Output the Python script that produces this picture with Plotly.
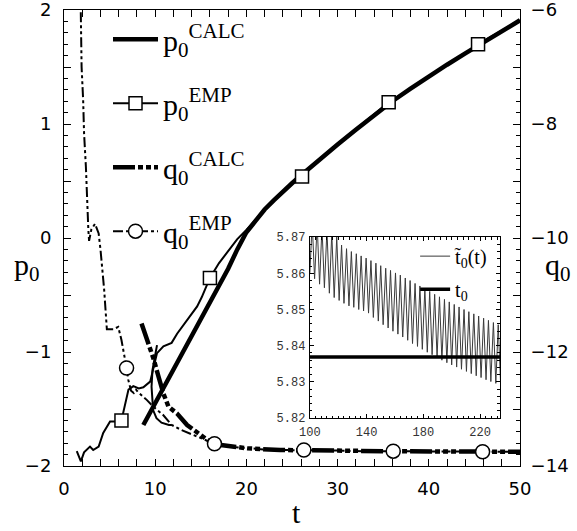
import plotly.graph_objects as go

# ---------------- data ----------------
p_calc_t = [8.7, 10, 11, 12, 13, 14, 15, 16, 17, 18, 19, 20, 21, 22, 23, 24, 25, 26,
            28, 30, 32, 34, 36, 38, 40, 42, 44, 46, 48, 50]
p_calc_v = [-1.64, -1.45, -1.30, -1.15, -1.00, -0.86, -0.71, -0.56, -0.42, -0.27, -0.10, 0.05,
            0.15, 0.25, 0.33, 0.41, 0.48, 0.55, 0.69, 0.82, 0.95, 1.08, 1.20, 1.31, 1.42,
            1.52, 1.62, 1.72, 1.82, 1.91]

p_emp_t = [1.4, 1.85, 2.2, 2.5, 2.85, 3.2, 3.8, 4.3, 5.05, 5.6, 6.3, 7.07, 7.6, 8.2, 8.7,
           9.45, 9.8, 10.2, 10.9, 11.8, 12.4, 13.5, 14.6, 15.1, 15.6, 16.0, 17, 18, 19, 20,
           22, 24, 26.1, 28, 30, 32, 34, 35.6, 38, 40, 42, 44, 45.4, 48, 50]
p_emp_v = [-1.87, -1.96, -1.88, -1.86, -1.83, -1.86, -1.83, -1.71, -1.61, -1.61, -1.60, -1.33,
           -1.30, -1.32, -1.31, -1.26, -1.13, -1.01, -0.95, -0.92, -0.84, -0.72, -0.60, -0.52,
           -0.43, -0.35, -0.22, -0.11, -0.01, 0.07, 0.25, 0.41, 0.54, 0.69, 0.82, 0.95, 1.08,
           1.19, 1.31, 1.42, 1.52, 1.62, 1.70, 1.82, 1.91]
p_emp_marker_t = [6.3, 16.0, 26.1, 35.6, 45.4]
p_emp_marker_v = [-1.60, -0.35, 0.54, 1.19, 1.70]

q_calc_t = [8.5, 9.27, 9.8, 10.36, 10.9, 11.46, 12.4, 13.5, 14.9, 15.7, 16.6, 18.2, 20.1,
            23.7, 25.6, 30, 35, 40, 45, 50]
q_calc_v = [-11.50, -11.85, -12.11, -12.43, -12.73, -12.96, -13.08, -13.28, -13.46, -13.54,
            -13.62, -13.66, -13.69, -13.72, -13.72, -13.73, -13.74, -13.74, -13.75, -13.75]

q_emp_t = [1.80, 1.93, 2.1, 2.2, 2.4, 2.5, 2.67, 2.75, 3.0, 3.4, 3.8, 4.0, 4.2, 4.4, 4.7,
           5.4, 5.95, 6.3, 6.86, 7.05, 7.35, 7.65, 7.9, 8.1, 9.07, 9.8, 10.9, 11.8, 12.9,
           13.8, 15.0, 16.5, 18, 20, 22, 24, 26.3, 30, 33, 36.1, 40, 43, 45.9, 48, 50]
q_emp_v = [-5.6, -7.0, -7.58, -8.16, -8.75, -9.33, -9.86, -10.05, -9.85, -9.75, -9.92,
           -10.2, -10.5, -10.9, -11.6, -11.6, -11.56, -11.79, -12.28, -12.49, -12.68, -12.72,
           -12.66, -12.70, -12.84, -12.96, -13.11, -13.28, -13.37, -13.43, -13.52, -13.61,
           -13.66, -13.69, -13.71, -13.72, -13.72, -13.73, -13.74, -13.74, -13.74, -13.75,
           -13.75, -13.75, -13.75]
q_emp_marker_t = [6.86, 16.5, 26.3, 36.1, 45.9]
q_emp_marker_v = [-12.28, -13.61, -13.72, -13.74, -13.75]

# extra thin branch of the empirical q0 curve
q_branch_t = [10.2, 9.96, 9.7, 9.6, 9.66, 9.77, 10.14, 10.69, 11.5, 11.8]
q_branch_v = [-11.88, -12.08, -12.32, -12.61, -12.84, -13.02, -13.16, -13.24, -13.28, -13.28]

# inset: oscillating t0~(t) (alternating troughs / peaks) and constant t0
inset_t = [100.0, 101.7, 103.4, 105.2, 106.9, 108.6, 110.3, 112.1, 113.8, 115.5, 117.2,
           119.0, 120.7, 122.4, 124.1, 125.9, 127.6, 129.3, 131.0, 132.8, 134.5, 136.2,
           137.9, 139.7, 141.4, 143.1, 144.8, 146.6, 148.3, 150.0, 151.7, 153.5, 155.2,
           156.9, 158.6, 160.4, 162.1, 163.8, 165.5, 167.3, 169.0, 170.7, 172.4, 174.2,
           175.9, 177.6, 179.3, 181.1, 182.8, 184.5, 186.2, 188.0, 189.7, 191.4, 193.1,
           194.9, 196.6, 198.3, 200.0, 201.8, 203.5, 205.2, 206.9, 208.7, 210.4, 212.1,
           213.8, 215.6, 217.3, 219.0, 220.7, 222.5, 224.2, 225.9, 227.6, 229.4, 231.1,
           232.8, 234.5]
inset_v = [5.8598, 5.8740, 5.8585, 5.8735, 5.8570, 5.8728, 5.8560, 5.8720, 5.8545, 5.8712,
           5.8533, 5.8700, 5.8525, 5.8678, 5.8517, 5.8668, 5.8510, 5.8660, 5.8506, 5.8654,
           5.8500, 5.8648, 5.8496, 5.8642, 5.8490, 5.8635, 5.8478, 5.8628, 5.8468, 5.8621,
           5.8458, 5.8614, 5.8449, 5.8608, 5.8440, 5.8601, 5.8432, 5.8595, 5.8424, 5.8587,
           5.8415, 5.8580, 5.8406, 5.8572, 5.8398, 5.8565, 5.8390, 5.8558, 5.8382, 5.8550,
           5.8375, 5.8542, 5.8367, 5.8535, 5.8360, 5.8528, 5.8353, 5.8521, 5.8347, 5.8514,
           5.8341, 5.8507, 5.8335, 5.8500, 5.8329, 5.8494, 5.8323, 5.8488, 5.8317, 5.8482,
           5.8312, 5.8476, 5.8306, 5.8470, 5.8301, 5.8464, 5.8296, 5.8458, 5.8291]
t0_t = [100, 236]
t0_v = [5.8369, 5.8369]

x_ticks = [0, 10, 20, 30, 40, 50]
p_ticks = [-2, -1.5, -1, -0.5, 0, 0.5, 1, 1.5, 2]
p_ticktext = ["\u22122", "", "\u22121", "", "0", "", "1", "", "2"]
q_ticks = [-14, -13, -12, -11, -10, -9, -8, -7, -6]
q_ticktext = ["\u221214", "", "\u221212", "", "\u221210", "", "\u22128", "", "\u22126"]
inset_xticks = [100, 140, 180, 220]
inset_yticks = [5.82, 5.83, 5.84, 5.85, 5.86, 5.87]

# --------------------------------------------------------------
SERIF = "Liberation Serif"
EMP_P_LINE = dict(color="black", width=2)
EMP_Q_LINE = dict(color="black", width=2, dash="10px,3px,3px,3px,3px,3px")
SQ = dict(symbol="square", size=13, color="white", opacity=1,
          line=dict(color="black", width=1.5))
CI = dict(symbol="circle", size=14, color="white", opacity=1,
          line=dict(color="black", width=1.5))

fig = go.Figure()

# --- p0 (left axis)
fig.add_trace(go.Scatter(
    x=p_calc_t, y=p_calc_v, mode="lines", name="p<sub>0</sub><sup>CALC</sup>",
    line=dict(color="black", width=4.5), legendgroup="a"))
fig.add_trace(go.Scatter(
    x=p_emp_t, y=p_emp_v, mode="lines", line=EMP_P_LINE, showlegend=False,
    legendgroup="b"))
fig.add_trace(go.Scatter(
    x=p_emp_marker_t, y=p_emp_marker_v, mode="markers", marker=SQ, showlegend=False,
    legendgroup="b"))
fig.add_trace(go.Scatter(        # legend entry only
    x=[None], y=[None], mode="lines+markers", name="p<sub>0</sub><sup>EMP</sup>",
    line=EMP_P_LINE, marker=SQ, legendgroup="b"))

# --- q0 (right axis)
fig.add_trace(go.Scatter(
    x=q_calc_t, y=q_calc_v, yaxis="y2", mode="lines", name="q<sub>0</sub><sup>CALC</sup>",
    line=dict(color="black", width=4.5, dash="22px,3px,5px,3px,5px,3px,5px,3px"),
    legendgroup="c"))
fig.add_trace(go.Scatter(
    x=q_branch_t, y=q_branch_v, yaxis="y2", mode="lines", showlegend=False,
    line=dict(color="black", width=2), legendgroup="d"))
fig.add_trace(go.Scatter(
    x=q_emp_t, y=q_emp_v, yaxis="y2", mode="lines", line=EMP_Q_LINE, showlegend=False,
    legendgroup="d"))
fig.add_trace(go.Scatter(
    x=q_emp_marker_t, y=q_emp_marker_v, yaxis="y2", mode="markers", marker=CI,
    showlegend=False, legendgroup="d"))
fig.add_trace(go.Scatter(        # legend entry only
    x=[None], y=[None], yaxis="y2", mode="lines+markers", name="q<sub>0</sub><sup>EMP</sup>",
    line=EMP_Q_LINE, marker=CI, legendgroup="d"))

# --- inset
fig.add_trace(go.Scatter(
    x=inset_t, y=inset_v, xaxis="x3", yaxis="y3", mode="lines", name="t\u0303<sub>0</sub>(t)",
    line=dict(color="#3a3a3a", width=1), legend="legend2", legendgroup="i1"))
fig.add_trace(go.Scatter(
    x=t0_t, y=t0_v, xaxis="x3", yaxis="y3", mode="lines", name="t<sub>0</sub>",
    line=dict(color="black", width=3.5), legend="legend2", legendgroup="i2"))

tickfont = dict(family="DejaVu Sans", size=18, color="black")
ax_common = dict(showgrid=False, zeroline=False, showline=True, linecolor="black",
                 linewidth=1, ticks="inside", tickcolor="black", tickwidth=1,
                 automargin=False, ticklabeloverflow="allow")

fig.update_layout(
    template="none",
    width=577, height=531,
    margin=dict(l=64, r=57, t=10, b=65, autoexpand=False),
    paper_bgcolor="white", plot_bgcolor="white",
    xaxis=dict(range=[0, 50], tickvals=x_ticks, ticklen=7, mirror="allticks",
               tickfont=tickfont, ticklabelstandoff=6,
               minor=dict(dtick=2, tick0=0, ticklen=4, ticks="inside", tickcolor="black"),
               **ax_common),
    yaxis=dict(range=[-2, 2], tickvals=p_ticks, ticktext=p_ticktext, ticklen=7, mirror=True,
               tickfont=tickfont, ticklabelstandoff=8,
               minor=dict(dtick=0.1, tick0=0, ticklen=4, ticks="inside", tickcolor="black"),
               **ax_common),
    yaxis2=dict(range=[-14, -6], overlaying="y", side="right", anchor="x",
                tickvals=q_ticks, ticktext=q_ticktext, ticklen=7, tickfont=tickfont,
                ticklabelstandoff=6,
                minor=dict(dtick=0.2, tick0=0, ticklen=4, ticks="inside", tickcolor="black"),
                **ax_common),
    xaxis3=dict(domain=[0.539, 0.956], anchor="y3", range=[100, 234], tickvals=inset_xticks,
                ticklen=4, mirror="allticks",
                tickfont=dict(family="Liberation Mono", size=12, color="#333"),
                ticklabelstandoff=2,
                minor=dict(dtick=4, tick0=0, ticklen=2.5, ticks="inside", tickcolor="black"),
                **ax_common),
    yaxis3=dict(domain=[0.105, 0.502], anchor="x3", range=[5.82, 5.87], tickvals=inset_yticks,
                tickformat=".2f", ticklen=4, mirror="allticks",
                tickfont=dict(family="Liberation Mono", size=12, color="#333"),
                ticklabelstandoff=1,
                minor=dict(dtick=0.002, tick0=5.82, ticklen=2.5, ticks="inside",
                           tickcolor="black"),
                **ax_common),
    legend=dict(x=0.0965, y=0.993, xanchor="left", yanchor="top", bgcolor="rgba(0,0,0,0)",
                borderwidth=0,
                font=dict(family=SERIF, size=30, color="black"), itemwidth=45,
                traceorder="grouped", tracegroupgap=22),
    legend2=dict(x=0.77, y=0.503, xanchor="left", yanchor="top", bgcolor="rgba(0,0,0,0)",
                 borderwidth=0, traceorder="grouped",
                 font=dict(family=SERIF, size=20, color="black"), itemwidth=30,
                 tracegroupgap=4),
    showlegend=True,
    annotations=[
        dict(text="p<sub>0</sub>", x=-0.081, y=0.437, xref="paper", yref="paper",
             xanchor="center", yanchor="middle",
             showarrow=False, font=dict(family=SERIF, size=30, color="black")),
        dict(text="q<sub>0</sub>", x=1.083, y=0.437, xref="paper", yref="paper",
             xanchor="center", yanchor="middle",
             showarrow=False, font=dict(family=SERIF, size=30, color="black")),
        dict(text="t", x=0.509, y=-0.103, xref="paper", yref="paper",
             xanchor="center", yanchor="middle",
             showarrow=False, font=dict(family=SERIF, size=30, color="black")),
    ],
)

fig.write_html("out.html")
